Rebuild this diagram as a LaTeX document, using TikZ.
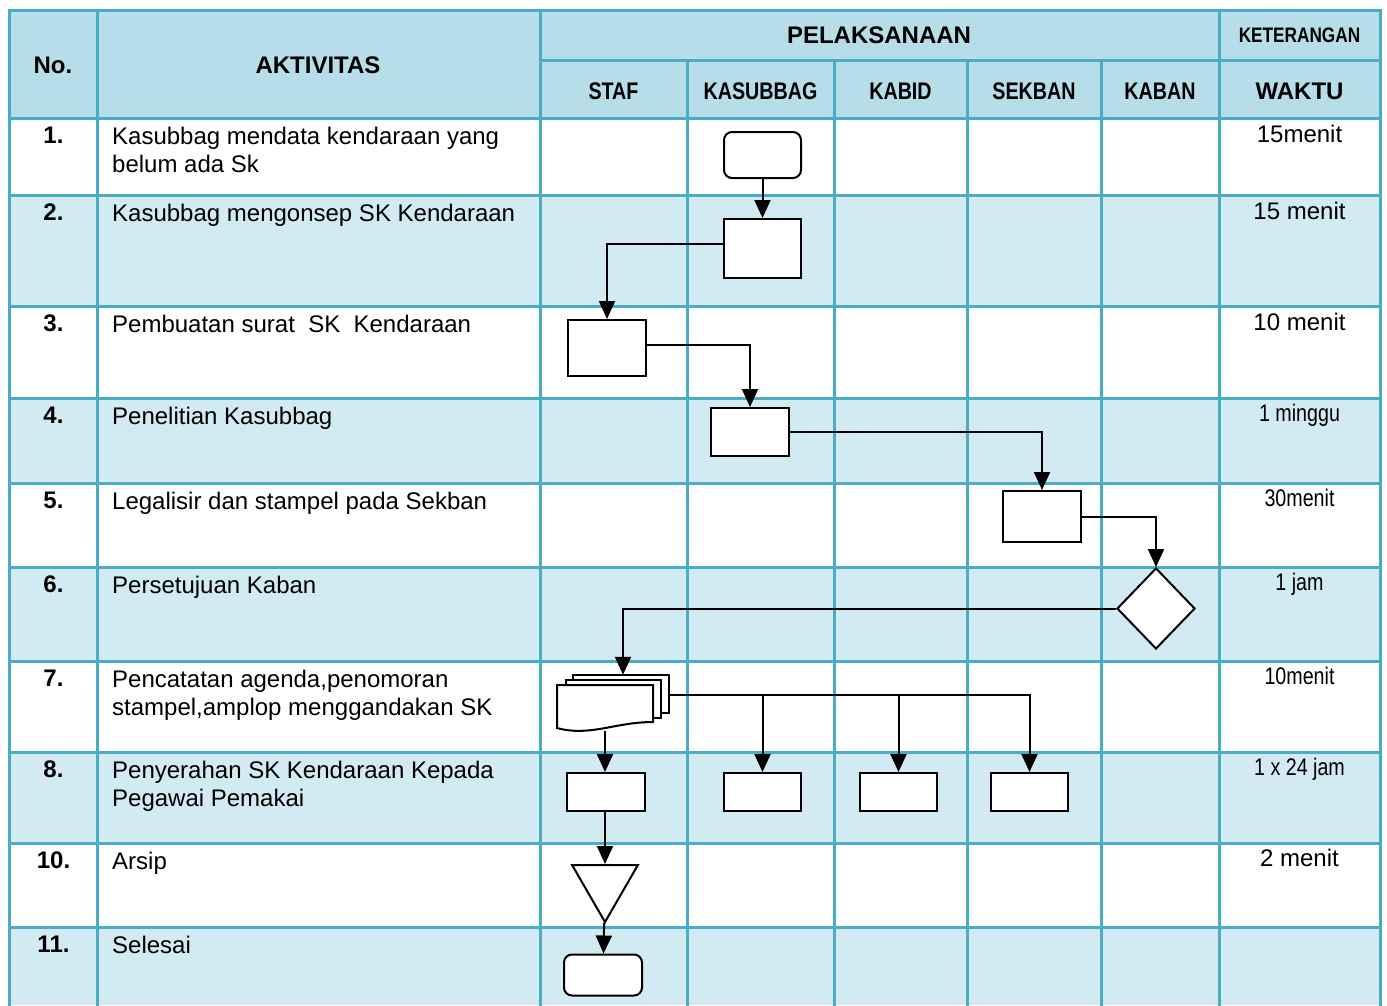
\documentclass[tikz,border=0pt]{standalone}
\usepackage{fontspec}
\setmainfont{Liberation Sans}
\newfontfamily\narrowfont[FakeStretch=0.82]{Liberation Sans}
\usetikzlibrary{positioning,shapes.geometric,arrows.meta,calc}
\definecolor{gridblue}{HTML}{4BACC6}
\definecolor{headblue}{HTML}{B7DDE8}
\definecolor{bandblue}{HTML}{D2EAF1}

\begin{document}
\begin{tikzpicture}[x=1pt,y=-1pt,
gridline/.style={draw=gridblue,line width=3pt,line cap=rect},
cell/.style={anchor=base west,inner sep=0pt,align=left,font=\fontsize{24}{28}\selectfont},
num/.style={anchor=base,inner sep=0pt,font=\fontsize{24}{28}\selectfont\bfseries},
head/.style={anchor=base,inner sep=0pt,font=\fontsize{24}{28}\selectfont\bfseries},
nhead/.style={anchor=base,inner sep=0pt,font=\fontsize{24}{28}\selectfont\narrowfont\bfseries},
wkt/.style={anchor=base,inner sep=0pt,font=\fontsize{24}{28}\selectfont},
nwkt/.style={anchor=base,inner sep=0pt,font=\fontsize{24}{28}\selectfont\narrowfont},
proc/.style={draw,line width=2pt,fill=white,inner sep=0pt,minimum width=78pt},
term/.style={proc,rounded corners=8pt},
arr/.style={line width=2pt,-{Triangle[length=18pt,width=16pt]}}]
\useasboundingbox (0,0) rectangle (1387,1005);
\fill[headblue] (9,10) rectangle (1380,118);
\foreach \t/\b in {195/306,398/483,567/661,752/843,927/1005}
  \fill[bandblue] (9,\t) rectangle (1380,\b);
\foreach \y in {10,118,195,306,398,483,567,661,752,843,927}
  \draw[gridline] (9,\y) -- (1380,\y);
\draw[gridline] (540,60) -- (1380,60);
\foreach \x in {9,97,540,1219,1380}
  \draw[gridline] (\x,10) -- (\x,1005);
\foreach \x in {687,834,967,1101}
  \draw[gridline] (\x,60) -- (\x,1005);
\node[head] (hno) at (53,73.5) {No.};
\node[head] (hakt) at (318,73.5) {AKTIVITAS};
\node[head] (hpel) at (879,43.5) {PELAKSANAAN};
\node[nhead,font=\fontsize{21}{25}\selectfont\narrowfont\bfseries] (hket) at (1299.5,42.5) {KETERANGAN};
\node[nhead] (hstaf) at (613.5,99.5) {STAF};
\node[nhead] (hkasub) at (760.5,99.5) {KASUBBAG};
\node[nhead] (hkabid) at (900.5,99.5) {KABID};
\node[nhead] (hsekban) at (1034,99.5) {SEKBAN};
\node[nhead] (hkaban) at (1160,99.5) {KABAN};
\node[head] (hwaktu) at (1299.5,99.5) {WAKTU};
\foreach \y/\n [count=\i] in {118/1.,195/2.,306/3.,398/4.,483/5.,567/6.,661/7.,752/8.,843/10.,927/11.}
  \node[num] (no\i) at (53.5,\y+25) {\n};
\node[cell] (act1) at (112,172) {Kasubbag mendata kendaraan yang\\belum ada Sk};
\node[cell] (act2) at (112,221) {Kasubbag mengonsep SK Kendaraan};
\node[cell] (act3) at (112,332) {Pembuatan surat~ SK~ Kendaraan};
\node[cell] (act4) at (112,424) {Penelitian Kasubbag};
\node[cell] (act5) at (112,509) {Legalisir dan stampel pada Sekban};
\node[cell] (act6) at (112,593) {Persetujuan Kaban};
\node[cell] (act7) at (112,715) {Pencatatan agenda,penomoran\\stampel,amplop menggandakan SK};
\node[cell] (act8) at (112,806) {Penyerahan SK Kendaraan Kepada\\Pegawai Pemakai};
\node[cell] (act10) at (112,869) {Arsip};
\node[cell] (act11) at (112,953) {Selesai};
\node[wkt] (t1) at (1299.5,142) {15menit};
\node[wkt] (t2) at (1299.5,219) {15 menit};
\node[wkt] (t3) at (1299.5,330) {10 menit};
\node[nwkt] (t4) at (1299.5,421) {1 minggu};
\node[nwkt] (t5) at (1299.5,506) {30menit};
\node[nwkt] (t6) at (1299.5,590) {1 jam};
\node[nwkt] (t7) at (1299.5,684) {10menit};
\node[nwkt] (t8) at (1299.5,775) {1 x 24 jam};
\node[wkt] (t10) at (1299.5,866) {2 menit};
\node[term,minimum width=77pt,minimum height=46pt] (mulai) at (762.5,155) {};
\node[proc,minimum width=77pt,minimum height=59pt] (konsep) at (762.5,248.5) {};
\node[proc,minimum height=56pt] (buat) at (607,348) {};
\node[proc,minimum height=48pt] (teliti) at (750,432) {};
\node[proc,minimum height=51pt] (legal) at (1042,516.5) {};
\node[draw,diamond,line width=2pt,fill=white,inner sep=0pt,minimum width=78pt,minimum height=81pt] (setuju) at (1156,608.5) {};
\draw[line width=2pt,fill=white] (573,675) rectangle (669,713);
\draw[line width=2pt,fill=white] (566,680) rectangle (661,718);
\draw[line width=2pt,fill=white] (557,685) -- (653,685) -- (653,722)
  .. controls (615,722) and (590,737) .. (557,728) -- cycle;
\node[inner sep=0pt,minimum width=112pt,minimum height=56pt] (catat) at (613,703) {};
\node[proc,minimum height=38pt] (serah1) at (606,792) {};
\node[proc,minimum width=77pt,minimum height=38pt] (serah2) at (762.5,792) {};
\node[proc,minimum width=77pt,minimum height=38pt] (serah3) at (898.5,792) {};
\node[proc,minimum width=77pt,minimum height=38pt] (serah4) at (1029.5,792) {};
\node[draw,regular polygon,regular polygon sides=3,regular polygon rotate=180,line width=2pt,fill=white,inner sep=0pt,minimum size=76pt] (arsip) at (605,884) {};
\node[term,minimum height=41pt] (selesai) at (603,975) {};
\draw[arr] (mulai) -- (konsep);
\draw[arr] ([yshift=5pt]konsep.west) -| (buat);
\draw[arr] ([yshift=3pt]buat.east) -| (teliti);
\draw[arr] (teliti.east) -| (legal);
\draw[arr] (legal.east) -| (setuju);
\draw[arr] (setuju.west) -| ([xshift=10pt]catat.north);
\coordinate (bus) at ([yshift=8pt]catat.east);
\draw[arr] (bus) -| (serah4);
\draw[arr] (bus -| serah2) -- (serah2);
\draw[arr] (bus -| serah3) -- (serah3);
\draw[arr] (catat.south -| arsip) -- (serah1.north -| arsip);
\draw[arr] (serah1.south -| arsip) -- (arsip);
\draw[arr] (arsip) -- (selesai);
\end{tikzpicture}
\end{document}
